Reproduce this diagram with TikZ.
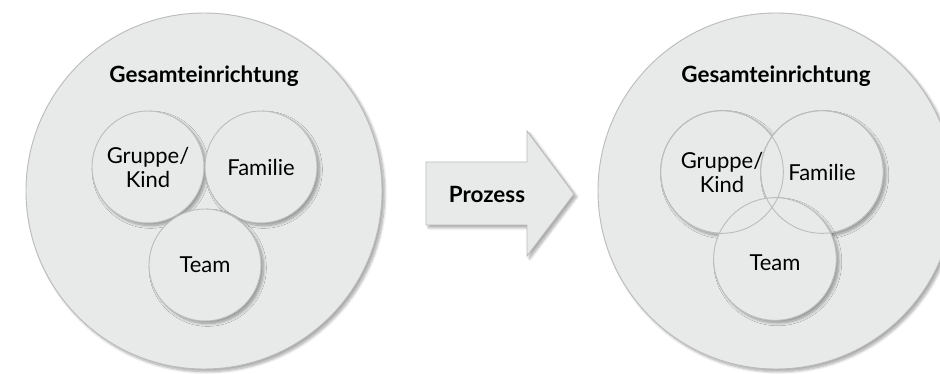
\documentclass[tikz,border=0pt]{standalone}
\usepackage{fontspec}
\setmainfont{Lato}
\usetikzlibrary{shadows.blur}
\definecolor{discfill}{RGB}{232,234,234}
\definecolor{discline}{RGB}{188,188,188}

\begin{document}
\begin{tikzpicture}[x=0.75pt,y=-0.75pt,
  disc/.style={circle, fill=discfill, draw=discline, line width=0.7pt, inner sep=0pt,
    blur shadow={shadow xshift=2pt, shadow yshift=-2pt, shadow blur steps=8, shadow opacity=35}},
  ring/.style={circle, draw=discline, line width=0.7pt, inner sep=0pt},
  txt/.style={font=\fontsize{16.5}{18}\selectfont, align=center},
  head/.style={font=\fontsize{16.8}{18}\selectfont\bfseries}]
\useasboundingbox (0,0) rectangle (940,374);
% left: separate circles
\path (204,191) node[disc, minimum size=267pt] (wholeL) {};
\path (204,76) node[head] (titleL) {Gesamteinrichtung};
\path (148,167) node[disc, minimum size=84pt] (groupL) {};
\path (261,167) node[disc, minimum size=84pt] (familyL) {};
\path (205,265) node[disc, minimum size=84pt] (teamL) {};
\path (groupL) node[txt] {Gruppe/\\Kind};
\path (familyL) node[txt] {Familie};
\path (teamL) node[txt] {Team};
% process arrow
\draw[fill=discfill, draw=discline, line width=0.7pt,
  blur shadow={shadow xshift=2pt, shadow yshift=-2pt, shadow blur steps=8, shadow opacity=35}]
  (426,162) -- (527,162) -- (527,131) -- (574,194) -- (527,256) -- (527,225) -- (426,225) -- cycle;
\path (487,194) node[head] (process) {Prozess};
% right: overlapping circles
\path (776,191) node[disc, minimum size=267pt] (wholeR) {};
\path (776,76) node[head] (titleR) {Gesamteinrichtung};
\path (722,172) node[disc, minimum size=92pt] (groupR) {};
\path (822,172) node[disc, minimum size=92pt] (familyR) {};
\path (775,259) node[disc, minimum size=92pt] (teamR) {};
\path (722,172) node[ring, minimum size=92pt] {};
\path (822,172) node[ring, minimum size=92pt] {};
\path (groupR) node[txt] {Gruppe/\\Kind};
\path (familyR) node[txt] {Familie};
\path ([yshift=-3pt]teamR.center) node[txt] {Team};
\end{tikzpicture}
\end{document}
